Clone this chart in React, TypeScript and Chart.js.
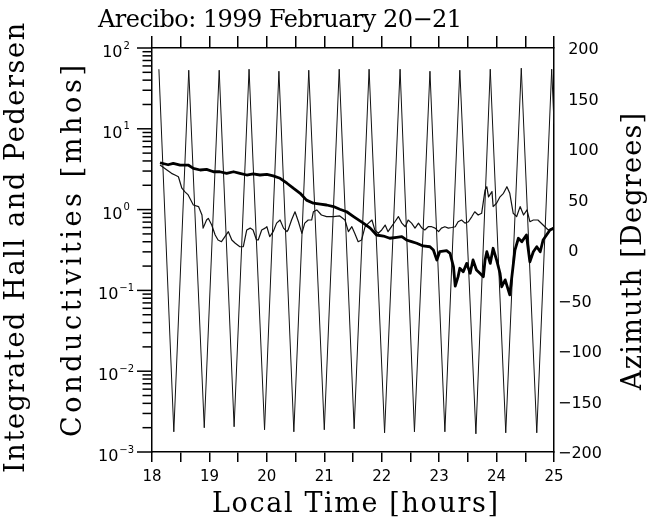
import React, { useEffect, useRef } from 'react';
import { Chart, registerables } from 'chart.js';

Chart.register(...registerables);

// ---------- text ----------
const TITLE = 'Arecibo: 1999 February 20\u221221';
const X_TITLE = 'Local Time [hours]';
const Y_TITLE_1 = 'Integrated Hall and Pedersen';
const Y_TITLE_2 = 'Conductivities [mhos]';
const Y2_TITLE = 'Azimuth [Degrees]';

// ---------- axes ----------
const xRange = [18, 25];
const xTickStep = 0.5;
const logExponents = [-3, -2, -1, 0, 1, 2];
const logMinorMantissas = [2, 3, 4, 5, 6, 7, 8, 9];
const azRange = [-200, 200];
const azTickStep = 50;

// ---------- data ----------
// thick conductivity curve
const thickTimes = [
  18.14, 18.28, 18.37, 18.49, 18.63, 18.72, 18.84, 18.95, 19.07, 19.18,
  19.30, 19.42, 19.53, 19.65, 19.76, 19.88, 20.00, 20.11, 20.23, 20.35,
  20.46, 20.58, 20.69, 20.81, 20.93, 21.04, 21.16, 21.27, 21.39, 21.51,
  21.68, 21.80, 21.91, 22.03, 22.14, 22.26, 22.35, 22.43, 22.52, 22.61,
  22.72, 22.84, 22.90, 22.96, 23.01, 23.13, 23.19, 23.25, 23.28, 23.33,
  23.36, 23.42, 23.48, 23.54, 23.59, 23.65, 23.71, 23.77, 23.80, 23.83,
  23.89, 23.94, 24.00, 24.06, 24.09, 24.15, 24.23, 24.26, 24.32, 24.38,
  24.44, 24.52, 24.58, 24.64, 24.70, 24.76, 24.81, 24.93, 25.00,
];
const thickValues = [
  3.80, 3.59, 3.74, 3.56, 3.56, 3.24, 3.09, 3.15, 2.94, 2.94,
  2.81, 2.94, 2.81, 2.68, 2.76, 2.68, 2.73, 2.61, 2.44, 2.12,
  1.84, 1.59, 1.31, 1.20, 1.17, 1.14, 1.09, 1.01, 0.94, 0.82,
  0.68, 0.59, 0.485, 0.471, 0.442, 0.454, 0.462, 0.421, 0.401, 0.383,
  0.355, 0.347, 0.316, 0.238, 0.301, 0.310, 0.288, 0.196, 0.113, 0.148,
  0.188, 0.170, 0.216, 0.163, 0.238, 0.179, 0.163, 0.148, 0.238, 0.301,
  0.216, 0.332, 0.238, 0.163, 0.111, 0.135, 0.088, 0.135, 0.316, 0.442,
  0.401, 0.485, 0.226, 0.301, 0.347, 0.301, 0.421, 0.56, 0.59,
];

// thin conductivity curve
const thinTimes = [
  18.14, 18.26, 18.34, 18.40, 18.46, 18.52, 18.57, 18.63, 18.72, 18.81,
  18.87, 18.89, 18.95, 18.98, 19.04, 19.10, 19.15, 19.21, 19.27, 19.33,
  19.39, 19.45, 19.53, 19.59, 19.65, 19.71, 19.76, 19.82, 19.85, 19.91,
  19.97, 20.00, 20.05, 20.11, 20.17, 20.23, 20.29, 20.35, 20.37, 20.43,
  20.49, 20.55, 20.61, 20.66, 20.72, 20.78, 20.81, 20.87, 20.95, 21.04,
  21.16, 21.27, 21.36, 21.42, 21.48, 21.53, 21.59, 21.65, 21.71, 21.77,
  21.83, 21.88, 21.94, 22.00, 22.06, 22.11, 22.17, 22.23, 22.29, 22.35,
  22.41, 22.46, 22.52, 22.58, 22.64, 22.70, 22.75, 22.81, 22.87, 22.93,
  22.99, 23.04, 23.10, 23.16, 23.22, 23.28, 23.33, 23.39, 23.45, 23.51,
  23.57, 23.62, 23.68, 23.74, 23.80, 23.83, 23.86, 23.92, 23.94, 24.00,
  24.06, 24.12, 24.18, 24.23, 24.29, 24.35, 24.41, 24.47, 24.53, 24.58,
  24.64, 24.72, 24.81, 24.90, 25.00,
];
const thinValues = [
  3.56, 3.09, 2.81, 2.68, 2.55, 1.84, 1.67, 1.52, 1.14, 1.09,
  0.857, 0.59, 0.743, 0.780, 0.644, 0.485, 0.421, 0.401, 0.462, 0.533,
  0.421, 0.383, 0.347, 0.347, 0.56, 0.59, 0.56, 0.421, 0.421, 0.56,
  0.59, 0.614, 0.462, 0.533, 0.68, 0.743, 0.59, 0.533, 0.56, 0.743,
  0.94, 0.708, 0.509, 0.68, 0.743, 0.743, 0.94, 0.99, 0.857, 0.82,
  0.82, 0.834, 0.743, 0.533, 0.614, 0.509, 0.401, 0.421, 0.614, 0.68,
  0.743, 0.56, 0.509, 0.56, 0.644, 0.533, 0.614, 0.708, 0.82, 0.68,
  0.614, 0.743, 0.68, 0.59, 0.68, 0.59, 0.56, 0.614, 0.614, 0.59,
  0.533, 0.59, 0.614, 0.59, 0.60, 0.614, 0.708, 0.743, 0.68, 0.708,
  0.82, 0.94, 0.857, 0.90, 1.75, 1.92, 1.44, 1.67, 1.09, 1.20,
  1.44, 1.59, 1.92, 1.59, 0.90, 0.82, 1.09, 0.857, 0.99, 0.708,
  0.743, 0.743, 0.644, 0.56, 0.60,
];

// radar azimuth (right axis)
const azTimes = [
  18.12, 18.38, 18.64, 18.91, 19.17, 19.43, 19.69, 19.96, 20.21, 20.47,
  20.73, 21.00, 21.26, 21.52, 21.78, 22.05, 22.32, 22.57, 22.84, 23.10,
  23.36, 23.64, 23.89, 24.16, 24.43, 24.70, 24.96, 25.00,
];
const azValues = [
  179, -180, 178, -176, 178, -175, 179, -178, 177, -180,
  178, -178, 179, -177, 179, -181, 179, -180, 177, -180,
  178, -182, 179, -181, 180, -181, 179, 125,
];

const SERIF = '"DejaVu Serif", serif';
const SANS = '"DejaVu Sans", sans-serif';

function pts(ts: number[], vs: number[]) {
  const n = Math.min(ts.length, vs.length);
  const out: { x: number; y: number }[] = [];
  for (let i = 0; i < n; i++) out.push({ x: ts[i], y: vs[i] });
  return out;
}

function drawFitted(
  ctx: CanvasRenderingContext2D,
  text: string,
  font: string,
  x: number,
  y: number,
  length: number,
  vertical: boolean
) {
  ctx.save();
  ctx.font = font;
  ctx.fillStyle = '#000';
  ctx.textAlign = 'left';
  ctx.textBaseline = 'alphabetic';
  const w = ctx.measureText(text).width;
  ctx.translate(x, y);
  if (vertical) ctx.rotate(-Math.PI / 2);
  const anyCtx = ctx as any;
  if ('letterSpacing' in anyCtx) {
    const sp = (length - w) / (text.length - 1);
    anyCtx.letterSpacing = sp.toFixed(2) + 'px';
    ctx.fillText(text, 0, 0);
    anyCtx.letterSpacing = '0px';
  } else {
    ctx.scale(length / w, 1);
    ctx.fillText(text, 0, 0);
  }
  ctx.restore();
}

const decorPlugin = {
  id: 'decor',
  afterDraw(chart: any) {
    const ctx: CanvasRenderingContext2D = chart.ctx;
    const ys = chart.scales.y;
    const area = chart.chartArea;
    ctx.save();
    // left log-axis ticks
    ctx.strokeStyle = '#000';
    ctx.lineWidth = 1.5;
    for (const e of logExponents) {
      const major = Math.pow(10, e);
      const py = ys.getPixelForValue(major);
      ctx.beginPath();
      ctx.moveTo(area.left - 15, py);
      ctx.lineTo(area.left, py);
      ctx.stroke();
      if (e === logExponents[logExponents.length - 1]) continue;
      for (const m of logMinorMantissas) {
        const pm = ys.getPixelForValue(m * major);
        ctx.beginPath();
        ctx.moveTo(area.left - 9.5, pm);
        ctx.lineTo(area.left, pm);
        ctx.stroke();
      }
    }
    // left log labels 10^n
    ctx.fillStyle = '#000';
    ctx.textAlign = 'left';
    ctx.textBaseline = 'alphabetic';
    for (const e of logExponents) {
      const py = ys.getPixelForValue(Math.pow(10, e));
      const base = '10';
      const ex = e < 0 ? '\u2212' + Math.abs(e) : String(e);
      ctx.font = '16px ' + SANS;
      const wb = ctx.measureText(base).width;
      ctx.font = '10px ' + SANS;
      const we = ctx.measureText(ex).width;
      const total = wb + 1 + we;
      const cx = area.left - 36;
      const sx = cx - total / 2;
      ctx.font = '16px ' + SANS;
      ctx.fillText(base, sx, py + 9);
      ctx.font = '10px ' + SANS;
      ctx.fillText(ex, sx + wb + 1, py + 0.5);
    }
    ctx.restore();

    // titles
    drawFitted(ctx, TITLE, '24px ' + SERIF, 98, 27, 364, false);
    drawFitted(ctx, X_TITLE, '27px ' + SERIF, 212, 512, 286, false);
    drawFitted(ctx, Y2_TITLE, '27px ' + SERIF, 641, 390, 277, true);
    drawFitted(ctx, Y_TITLE_1, '27px ' + SERIF, 24, 473, 450, true);
    drawFitted(ctx, Y_TITLE_2, '27px ' + SERIF, 81, 437, 372, true);
  },
};

export default function App() {
  const ref = useRef<HTMLCanvasElement | null>(null);

  useEffect(() => {
    if (!ref.current) return;
    const borderOpt = { display: true, color: '#000', width: 1.5 };
    const chart = new Chart(ref.current, {
      type: 'line',
      data: {
        datasets: [
          {
            label: 'Conductivity (thick)',
            data: pts(thickTimes, thickValues),
            yAxisID: 'y',
            xAxisID: 'x',
            borderColor: '#000',
            borderWidth: 2.8,
            pointRadius: 0,
            tension: 0,
            borderJoinStyle: 'round',
          },
          {
            label: 'Conductivity (thin)',
            data: pts(thinTimes, thinValues),
            yAxisID: 'y',
            xAxisID: 'x',
            borderColor: '#111',
            borderWidth: 1.2,
            pointRadius: 0,
            tension: 0,
            borderJoinStyle: 'round',
          },
          {
            label: 'Azimuth',
            data: pts(azTimes, azValues),
            yAxisID: 'y2',
            xAxisID: 'x',
            borderColor: '#111',
            borderWidth: 1,
            pointRadius: 0,
            tension: 0,
          },
        ],
      },
      options: {
        animation: false,
        responsive: false,
        maintainAspectRatio: false,
        layout: { padding: 0 },
        plugins: {
          legend: { display: false },
          tooltip: { enabled: false },
          title: { display: false },
        },
        scales: {
          x: {
            type: 'linear',
            position: 'bottom',
            min: xRange[0],
            max: xRange[1],
            afterFit: (s: any) => {
              s.height = 69;
            },
            grid: {
              display: true,
              drawOnChartArea: false,
              drawTicks: true,
              tickLength: 10,
              color: '#000',
              lineWidth: 1.5,
            },
            border: borderOpt,
            ticks: {
              stepSize: xTickStep,
              autoSkip: false,
              maxRotation: 0,
              padding: 6,
              color: '#000',
              font: { family: SANS, size: 15 },
              callback: (v: any) => (Number.isInteger(Number(v)) ? String(v) : ''),
            },
          },
          x2: {
            type: 'linear',
            position: 'top',
            min: xRange[0],
            max: xRange[1],
            afterFit: (s: any) => {
              s.height = 48;
            },
            grid: {
              display: true,
              drawOnChartArea: false,
              drawTicks: true,
              tickLength: 12,
              color: '#000',
              lineWidth: 1.5,
            },
            border: borderOpt,
            ticks: { stepSize: xTickStep, display: false, autoSkip: false },
          },
          y: {
            type: 'logarithmic',
            position: 'left',
            min: Math.pow(10, logExponents[0]),
            max: Math.pow(10, logExponents[logExponents.length - 1]),
            afterFit: (s: any) => {
              s.width = 152;
            },
            grid: { display: true, drawOnChartArea: false, drawTicks: false },
            border: borderOpt,
            ticks: { display: false },
          },
          y2: {
            type: 'linear',
            position: 'right',
            min: azRange[0],
            max: azRange[1],
            afterFit: (s: any) => {
              s.width = 108;
            },
            grid: { display: true, drawOnChartArea: false, drawTicks: false },
            border: borderOpt,
            ticks: {
              stepSize: azTickStep,
              padding: 4,
              labelOffset: 2,
              color: '#000',
              font: { family: SANS, size: 16 },
              callback: (v: any) => {
                const n = Number(v);
                return n < 0 ? '\u2212' + Math.abs(n) : '\u2007' + n;
              },
            },
          },
        },
      } as any,
      plugins: [decorPlugin],
    } as any);
    return () => chart.destroy();
  }, []);

  return (
    <div style={{ position: 'absolute', left: 0, top: 0, width: 662, height: 521, background: '#fff' }}>
      <canvas ref={ref} width={662} height={521} style={{ display: 'block' }} />
    </div>
  );
}
